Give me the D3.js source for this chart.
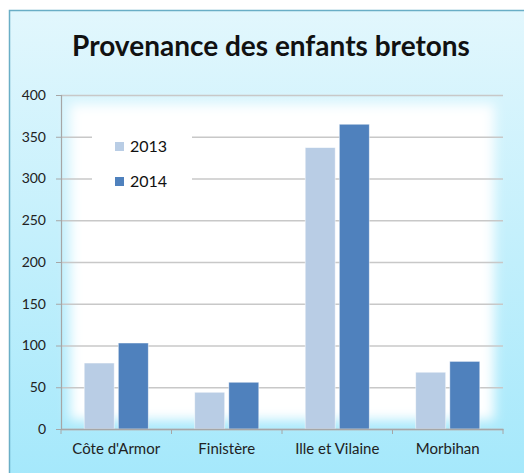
<!DOCTYPE html>
<html>
<head>
<meta charset="utf-8">
<script src="https://cdn.jsdelivr.net/npm/d3@7"></script>
<style>
  body { margin: 0; background: #fff; }
  svg { display: block; }
</style>
</head>
<body>
<script>
// data
var departements = ["Côte d'Armor", "Finistère", "Ille et Vilaine", "Morbihan"];
var annees = ["2013", "2014"];
var valeurs2013 = [79, 44, 337, 68];
var valeurs2014 = [103, 56, 365, 81];
var yTicks = [0, 50, 100, 150, 200, 250, 300, 350, 400];

var couleurs = {"2013": "#b9cde5", "2014": "#4f81bd"};

var W = 524, H = 473;
var font = "Lato, 'Open Sans', sans-serif";

var svg = d3.select('body').append('svg')
    .attr('width', W)
    .attr('height', H);

var defs = svg.append('defs');
var grad = defs.append('linearGradient')
    .attr('id', 'fond')
    .attr('x1', 0).attr('y1', 0).attr('x2', 0).attr('y2', 1);
grad.append('stop').attr('offset', '0%').attr('stop-color', '#e2f7fd');
grad.append('stop').attr('offset', '100%').attr('stop-color', '#a4e8fb');

var flou = defs.append('filter')
    .attr('id', 'flou')
    .attr('x', '-10%').attr('y', '-10%')
    .attr('width', '120%').attr('height', '120%');
flou.append('feGaussianBlur').attr('stdDeviation', 6);

// outer box
svg.append('rect')
    .attr('x', 9.5).attr('y', 10.5)
    .attr('width', W).attr('height', H)
    .attr('fill', 'url(#fond)')
    .attr('stroke', '#6aaec6')
    .attr('stroke-width', 1.5);

// soft white plot area
svg.append('rect')
    .attr('x', 70).attr('y', 104)
    .attr('width', 424).attr('height', 316)
    .attr('fill', '#ffffff')
    .attr('filter', 'url(#flou)');

// title
svg.append('text')
    .attr('x', 271)
    .attr('y', 56)
    .attr('text-anchor', 'middle')
    .attr('font-family', font)
    .attr('font-weight', 'bold')
    .attr('font-size', '28px')
    .attr('fill', '#111')
    .text('Provenance des enfants bretons');

var margin = {left: 61, right: 503, top: 95, bottom: 429};

var y = d3.scaleLinear().domain([0, 400]).range([margin.bottom, margin.top]);
var x0 = d3.scaleBand().domain(departements)
    .range([margin.left, margin.right])
    .paddingInner(0.42).paddingOuter(0.21);
var x1 = d3.scaleBand().domain(annees)
    .range([0, x0.bandwidth()])
    .paddingInner(0.12);

// gridlines
var grid = svg.append('g')
    .attr('transform', 'translate(' + margin.left + ',0)')
    .call(d3.axisLeft(y).tickValues(yTicks)
        .tickSize(-(margin.right - margin.left))
        .tickFormat(''));
grid.select('.domain').remove();
grid.selectAll('line').attr('stroke', '#c8c8c8').attr('stroke-width', 1.5);

// y axis
var yAxis = svg.append('g')
    .attr('transform', 'translate(' + margin.left + ',0)')
    .call(d3.axisLeft(y).tickValues(yTicks).tickSize(5).tickPadding(10));
yAxis.select('.domain').attr('stroke', '#a6a6a6').attr('stroke-width', 1.2);
yAxis.selectAll('line').attr('stroke', '#a6a6a6');
yAxis.selectAll('text')
    .attr('font-family', font)
    .attr('font-size', '14px')
    .attr('fill', '#222');

// legend (white box hides the gridlines)
var legend = svg.append('g').attr('transform', 'translate(92,128)');
legend.append('rect')
    .attr('width', 100).attr('height', 72)
    .attr('fill', '#fff');
annees.forEach(function(a, i) {
    var g = legend.append('g').attr('transform', 'translate(23,' + (14 + i * 35) + ')');
    g.append('rect')
        .attr('width', 9).attr('height', 9)
        .attr('fill', couleurs[a]);
    g.append('text')
        .attr('x', 15).attr('y', 10)
        .attr('font-family', font)
        .attr('font-size', '16px')
        .attr('fill', '#111')
        .text(a);
});

// bars
var rows = departements.map(function(d, i) {
    return {dep: d, vals: [{an: '2013', v: valeurs2013[i]}, {an: '2014', v: valeurs2014[i]}]};
});

var groups = svg.selectAll('.grp')
    .data(rows)
    .enter().append('g')
    .attr('class', 'grp')
    .attr('transform', function(d) { return 'translate(' + x0(d.dep) + ',0)'; });

groups.selectAll('rect')
    .data(function(d) { return d.vals; })
    .enter().append('rect')
    .attr('x', function(d) { return x1(d.an); })
    .attr('y', function(d) { return y(d.v); })
    .attr('width', x1.bandwidth())
    .attr('height', function(d) { return y(0) - y(d.v); })
    .attr('fill', function(d) { return couleurs[d.an]; })
    .attr('stroke', 'rgba(255,255,255,0.6)')
    .attr('stroke-width', 0.8);

// x axis
var xAxis = svg.append('g')
    .attr('transform', 'translate(0,' + margin.bottom + ')')
    .call(d3.axisBottom(x0).tickSize(0).tickPadding(14));
xAxis.select('.domain').attr('stroke', '#a6a6a6').attr('stroke-width', 1.5);
xAxis.selectAll('text')
    .attr('font-family', font)
    .attr('font-size', '15px')
    .attr('fill', '#222');
// category separators
var seps = departements.map(function(d) { return x0(d) - x0.step() * x0.paddingOuter(); })
    .concat([margin.right]);
xAxis.selectAll('.sep')
    .data(seps)
    .enter().append('line')
    .attr('class', 'sep')
    .attr('x1', function(d) { return d; })
    .attr('x2', function(d) { return d; })
    .attr('y1', 0).attr('y2', 5)
    .attr('stroke', '#a6a6a6');
</script>
</body>
</html>
